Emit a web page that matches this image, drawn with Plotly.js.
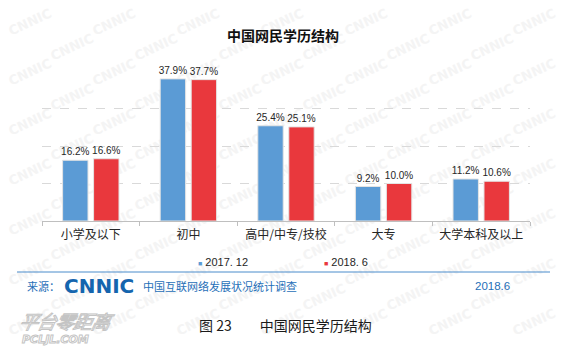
<!DOCTYPE html>
<html>
<head>
<meta charset="utf-8">
<script src="https://cdn.plot.ly/plotly-3.0.1.min.js"></script>
<style>
  html, body { margin: 0; padding: 0; background: #ffffff; }
  #wrap { position: relative; width: 566px; height: 353px; overflow: hidden; background: #ffffff; }
  #wm { position: absolute; left: 0; top: 0; width: 566px; height: 353px; overflow: hidden; }
  #wm span { position: absolute; font-family: "DejaVu Sans", sans-serif; font-weight: bold; font-size: 13px;
             color: #f4f4f4; transform: translate(-50%, -50%) rotate(-25deg); white-space: nowrap; }
  #logo { position: absolute; left: 20px; top: 309px; font-family: "Noto Sans CJK SC", sans-serif; font-style: italic;
          color: #ffffff; -webkit-text-stroke: 1px #c4c4c4; }
  #logo .a { font-size: 19px; line-height: 24px; letter-spacing: -1px; transform: skewX(-12deg); display: block; }
  #logo .b { font-family: "DejaVu Sans", sans-serif; font-weight: bold; font-size: 11px; line-height: 14px; display: block; padding-left: 2px; }
  #chart { position: absolute; left: 0; top: 0; width: 566px; height: 353px; }
</style>
</head>
<body>
<div id="wrap">
  <div id="wm"></div>
  <div id="logo"><span class="a">平台零距离</span><span class="b">PCLJL.COM</span></div>
  <div id="chart"></div>
</div>
<script>
// ---- data ----
const categories = ['小学及以下', '初中', '高中/中专/技校', '大专', '大学本科及以上'];
const values2017 = [16.2, 37.9, 25.4, 9.2, 11.2];
const values2018 = [16.6, 37.7, 25.1, 10.0, 10.6];
const seriesNames = ['2017. 12', '2018. 6'];
const seriesColors = ['#5b9bd5', '#e9383d'];
const chartTitle = '中国网民学历结构';
const sourceLabel = '来源：';
const sourceLogo = 'CNNIC';
const sourceText = '中国互联网络发展状况统计调查';
const sourceDate = '2018.6';
const captionText = '图 23\u3000\u3000中国网民学历结构';

// ---- faint repeated watermark (text, behind chart) ----
(function () {
  const wm = document.getElementById('wm');
  for (let r = 0; r < 14; r++) {
    for (let c = 0; c < 7; c++) {
      const x = 30 + 84 * c + (r % 2) * 42;
      const y = 22 + 25 * r;
      if (x > 536 || y > 335) continue;
      const s = document.createElement('span');
      s.textContent = 'CNNIC';
      s.style.left = x + 'px';
      s.style.top = y + 'px';
      wm.appendChild(s);
    }
  }
})();

const cjk = '"Noto Sans CJK SC", "Noto Sans", sans-serif';
const latin = '"Liberation Sans", Arial, sans-serif';
const fmt = v => v.toFixed(1) + '%';

const allSeries = [values2017, values2018];
const traces = allSeries.map((vals, i) => ({
  type: 'bar',
  x: categories,
  y: vals,
  name: seriesNames[i],
  showlegend: false,
  marker: { color: seriesColors[i], line: { color: '#e4e4e4', width: 1 } },
  text: vals.map(fmt),
  textposition: 'outside',
  constraintext: 'none',
  textfont: { family: latin, size: 10, color: '#262626' },
  cliponaxis: false,
  hoverinfo: 'x+y'
}));

// legend entries with small square keys
seriesNames.forEach((n, i) => {
  traces.push({
    type: 'scatter', mode: 'markers', x: [null], y: [null],
    name: '<span style="color:' + seriesColors[i] + ';font-size:7px">■</span> ' + n,
    marker: { color: 'rgba(0,0,0,0)', size: 1 },
    showlegend: true, hoverinfo: 'skip'
  });
});

// plot area pixel box: x 42..530, y 71..221
const L = 42, R = 530, T = 71, B = 221;
const px = x => (x - L) / (R - L);
const py = y => (B - y) / (B - T);

const blue = '#1f6fb8';
const layout = {
  width: 566, height: 353,
  margin: { l: L, r: 566 - R, t: T, b: 353 - B, pad: 0 },
  paper_bgcolor: 'rgba(0,0,0,0)',
  plot_bgcolor: 'rgba(0,0,0,0)',
  barmode: 'group',
  bargap: 0.365,
  bargroupgap: 0.18,
  title: {
    text: '<b>' + chartTitle + '</b>',
    font: { family: cjk, size: 14, color: '#111111' },
    x: 283 / 566, xref: 'container', xanchor: 'center',
    y: 1 - 36 / 353, yref: 'container', yanchor: 'middle'
  },
  xaxis: {
    type: 'category',
    showline: true, linecolor: '#bfbfbf', linewidth: 1,
    ticks: 'outside', tickson: 'boundaries', ticklen: 4, tickcolor: '#bfbfbf',
    tickfont: { family: cjk, size: 12, color: '#262626' },
    ticklabelstandoff: 3,
    showgrid: false, zeroline: false, fixedrange: true
  },
  yaxis: {
    range: [0, 40], dtick: 10, tick0: 0,
    showticklabels: false, ticks: '',
    showgrid: true, gridcolor: '#d9d9d9', gridwidth: 1, griddash: 'dash',
    zeroline: false, showline: false, fixedrange: true
  },
  showlegend: true,
  legend: {
    orientation: 'h',
    x: px(158), xanchor: 'left', xref: 'paper',
    y: py(262), yanchor: 'middle', yref: 'paper',
    font: { family: latin, size: 11, color: '#262626' },
    entrywidth: 81, entrywidthmode: 'pixels',
    bgcolor: 'rgba(0,0,0,0)', borderwidth: 0, itemclick: false, itemdoubleclick: false
  },
  shapes: [{
    type: 'line', xref: 'paper', yref: 'paper',
    x0: px(17), x1: px(550), y0: py(272), y1: py(272),
    line: { color: '#4a8ccb', width: 1 }
  }],
  annotations: [
    { text: sourceLabel, xref: 'paper', yref: 'paper', x: px(25), y: py(286), xanchor: 'left', yanchor: 'middle',
      showarrow: false, font: { family: cjk, size: 11, color: blue } },
    { text: '<b>' + sourceLogo + '</b>', xref: 'paper', yref: 'paper', x: px(62), y: py(286), xanchor: 'left', yanchor: 'middle',
      showarrow: false, font: { family: '"DejaVu Sans", sans-serif', size: 20, color: '#1565ae' } },
    { text: sourceText, xref: 'paper', yref: 'paper', x: px(141), y: py(286), xanchor: 'left', yanchor: 'middle',
      showarrow: false, font: { family: cjk, size: 11, color: blue } },
    { text: sourceDate, xref: 'paper', yref: 'paper', x: px(512), y: py(286), xanchor: 'right', yanchor: 'middle',
      showarrow: false, font: { family: latin, size: 11.5, color: blue } },
    { text: captionText, xref: 'paper', yref: 'paper', x: px(285), y: py(325), xanchor: 'center', yanchor: 'middle',
      showarrow: false, font: { family: cjk, size: 14, color: '#1a1a1a' } }
  ]
};

Plotly.newPlot('chart', traces, layout, { displayModeBar: false, staticPlot: true });
</script>
</body>
</html>
